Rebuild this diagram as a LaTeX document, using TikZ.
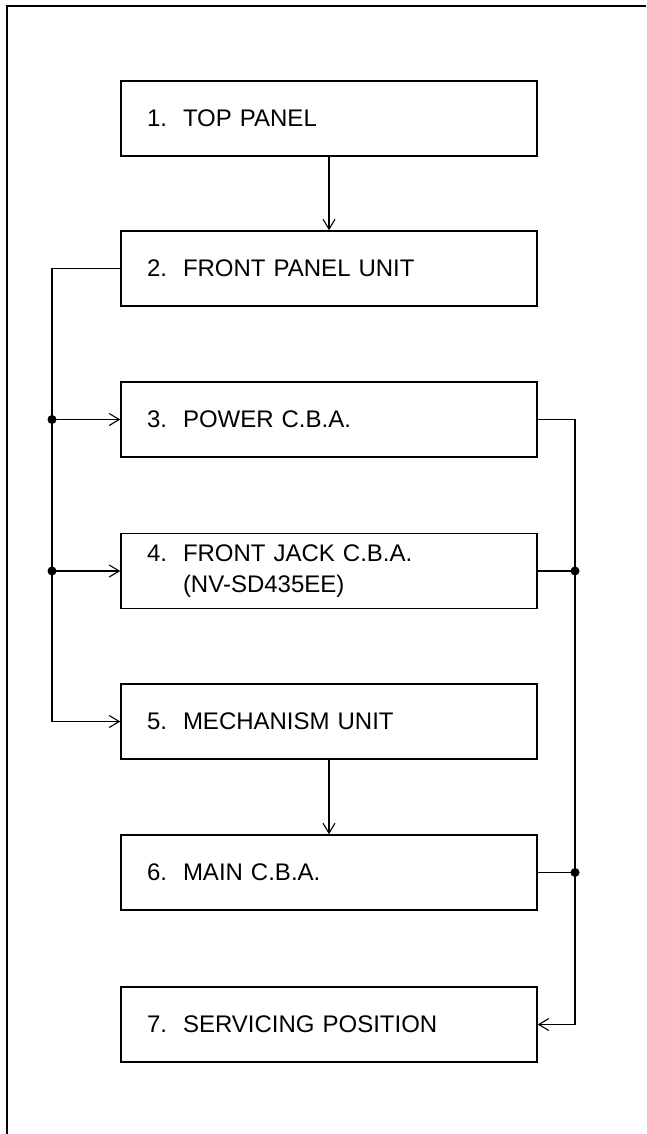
\documentclass[tikz,border=0pt]{standalone}
\usepackage{fontspec}
\setmainfont{Liberation Sans}
\usetikzlibrary{arrows.meta}
\begin{document}
\begin{tikzpicture}[x=1pt,y=-1pt,
  box/.style={draw, line width=1.5pt, minimum width=416pt, minimum height=75pt,
    inner xsep=26pt, inner ysep=0pt, text width=364pt, align=left,
    font=\fontsize{24}{31}\selectfont},
  conn/.style={line width=1.1pt},
  arr/.style={conn, -{Straight Barb[length=10pt,width=12pt]}},
  jdot/.style={circle, fill, inner sep=0pt, minimum size=9pt}]
\useasboundingbox (0,0) rectangle (646,1134);
\draw[line width=1.4pt] (7,1134) -- (7,6) -- (646,6);
\node[box] (b1) at (329,118.5) {\makebox[36pt][l]{1.}TOP PANEL};
\node[box] (b2) at (329,268.5) {\makebox[36pt][l]{2.}FRONT PANEL UNIT};
\node[box] (b3) at (329,419.5) {\makebox[36pt][l]{3.}POWER C.B.A.};
\node[box] (b4) at (329,571) {\makebox[36pt][l]{4.}FRONT JACK C.B.A.\\\hspace*{36pt}(NV-SD435EE)};
\node[box] (b5) at (329,721.5) {\makebox[36pt][l]{5.}MECHANISM UNIT};
\node[box] (b6) at (329,872.5) {\makebox[36pt][l]{6.}MAIN C.B.A.};
\node[box] (b7) at (329,1024.5) {\makebox[36pt][l]{7.}SERVICING POSITION};
\coordinate (lb) at (52,0);
\coordinate (rb) at (575,0);
% top-down arrows
\draw[arr] (b1.south) -- (b2.north);
\draw[arr] (b5.south) -- (b6.north);
% left bus
\node[jdot] (d3) at (lb |- b3.west) {};
\node[jdot] (d4) at (lb |- b4.west) {};
\draw[arr] (b2.west) -| (lb |- b5.west) -- (b5.west);
\draw[arr] (d3.center) -- (b3.west);
\draw[arr] (d4.center) -- (b4.west);
% right bus
\node[jdot] (e4) at (rb |- b4.east) {};
\node[jdot] (e6) at (rb |- b6.east) {};
\draw[arr] (b3.east) -| (rb |- b7.east) -- (b7.east);
\draw[conn] (b4.east) -- (e4.center);
\draw[conn] (b6.east) -- (e6.center);
\end{tikzpicture}
\end{document}
